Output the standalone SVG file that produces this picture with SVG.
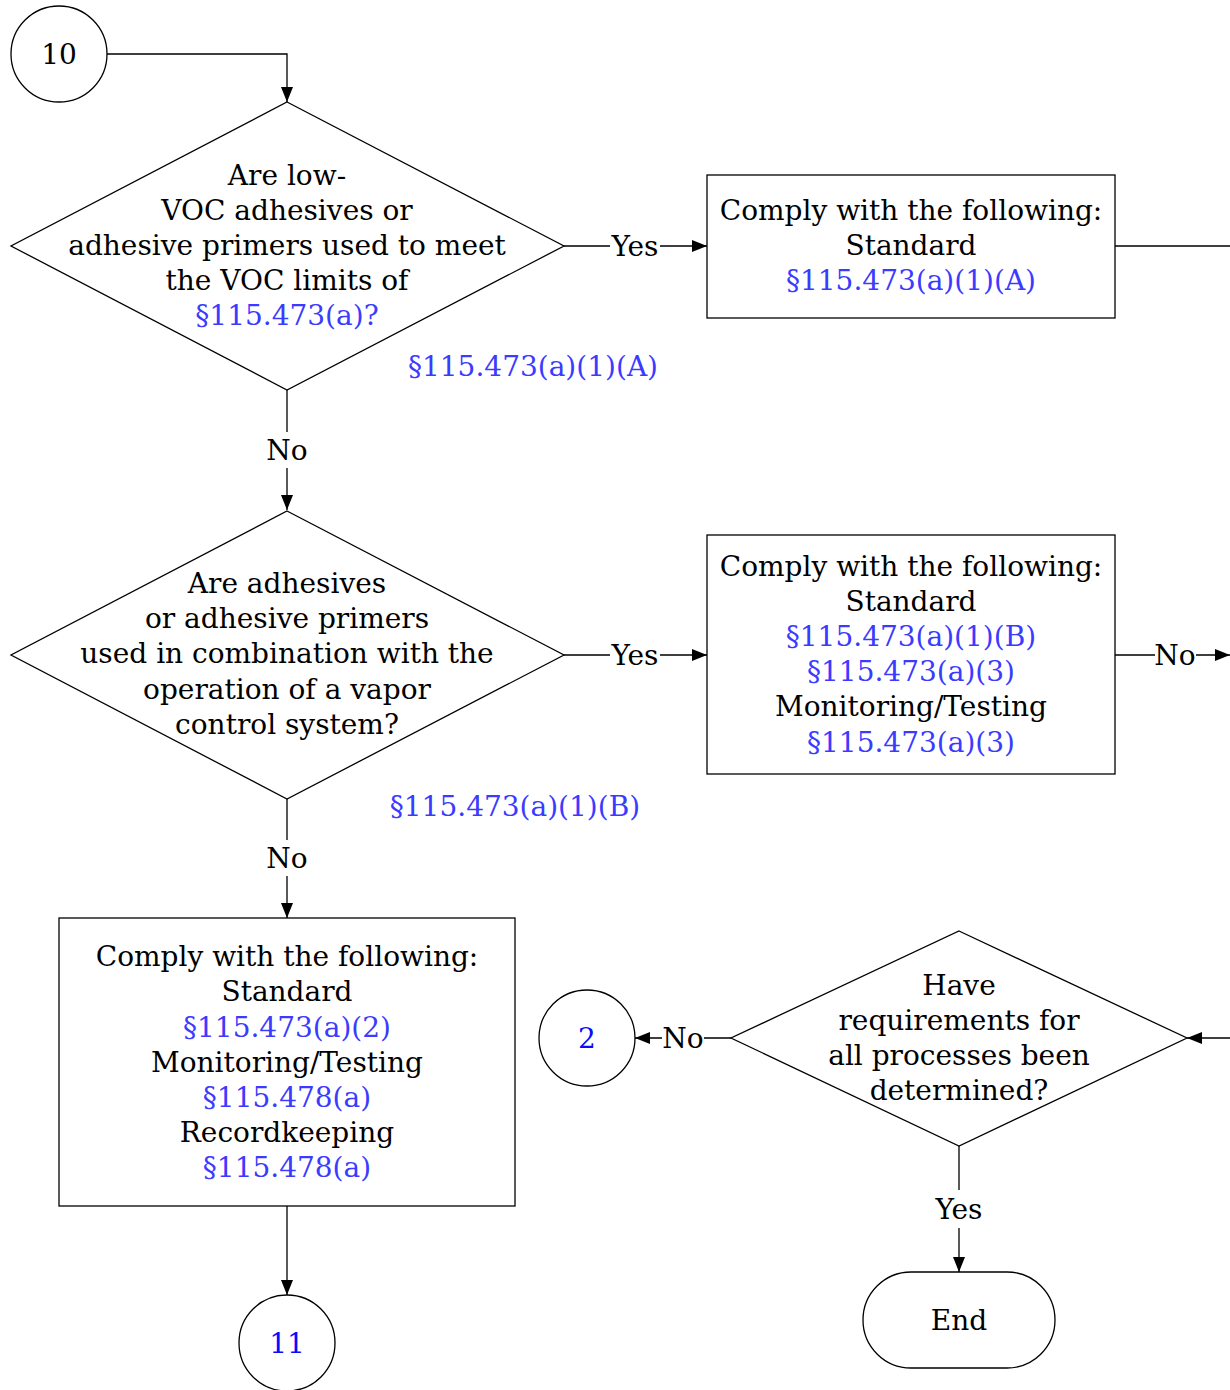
<svg xmlns="http://www.w3.org/2000/svg" width="1230" height="1390" viewBox="0 0 1230 1390">
<style>
text{font-family:"DejaVu Serif","Liberation Serif",serif;font-size:28px;fill:#000;text-anchor:middle;dominant-baseline:central}
.l{fill:#3b3bff}
.n{fill:#0a0aff}
.s{fill:#fff;stroke:#000;stroke-width:1.3}
.c{fill:none;stroke:#000;stroke-width:1.3}
</style>
<defs>
<marker id="a" viewBox="0 0 15 12" refX="15" refY="6" markerWidth="15" markerHeight="12" markerUnits="userSpaceOnUse" orient="auto"><path d="M0,0L15,6L0,12Z" fill="#000"/></marker>
</defs>
<rect width="1230" height="1390" fill="#fff"/>
<g id="connectors">
<path class="c" d="M107,54H287V102" marker-end="url(#a)"/>
<path class="c" d="M564,246H610M660,246H707" marker-end="url(#a)"/>
<text x="635" y="246">Yes</text>
<path class="c" d="M1115,246H1230"/>
<path class="c" d="M287,390V432M287,468V510" marker-end="url(#a)"/>
<text x="287" y="450">No</text>
<path class="c" d="M564,655H610M660,655H707" marker-end="url(#a)"/>
<text x="635" y="655">Yes</text>
<path class="c" d="M1115,655H1155M1196,655H1230" marker-end="url(#a)"/>
<text x="1175" y="655">No</text>
<path class="c" d="M287,799V840M287,876V918" marker-end="url(#a)"/>
<text x="287" y="858">No</text>
<path class="c" d="M287,1206V1295" marker-end="url(#a)"/>
<path class="c" d="M1230,1038H1187" marker-end="url(#a)"/>
<path class="c" d="M731,1038H704M662,1038H635" marker-end="url(#a)"/>
<text x="683" y="1038">No</text>
<path class="c" d="M959,1146V1190M959,1228V1272" marker-end="url(#a)"/>
<text x="959" y="1209">Yes</text>
</g>
<g id="n10">
<circle class="s" cx="59" cy="54" r="48"/>
<text x="59" y="54">10</text>
</g>
<g id="d1">
<path class="s" d="M287,102L564,246L287,390L11,246Z"/>
<text x="287" y="175">Are low-</text>
<text x="287" y="210">VOC adhesives or</text>
<text x="287" y="245">adhesive primers used to meet</text>
<text x="287" y="280">the VOC limits of</text>
<text x="287" y="315" class="l">§115.473(a)?</text>
<text x="533" y="366" class="l">§115.473(a)(1)(A)</text>
</g>
<g id="b1">
<rect class="s" x="707" y="175" width="408" height="143"/>
<text x="911" y="210">Comply with the following:</text>
<text x="911" y="245">Standard</text>
<text x="911" y="280" class="l">§115.473(a)(1)(A)</text>
</g>
<g id="d2">
<path class="s" d="M287,511L564,655L287,799L11,655Z"/>
<text x="287" y="583">Are adhesives</text>
<text x="287" y="618">or adhesive primers</text>
<text x="287" y="653">used in combination with the</text>
<text x="287" y="689">operation of a vapor</text>
<text x="287" y="724">control system?</text>
<text x="515" y="806" class="l">§115.473(a)(1)(B)</text>
</g>
<g id="b2">
<rect class="s" x="707" y="535" width="408" height="239"/>
<text x="911" y="566">Comply with the following:</text>
<text x="911" y="601">Standard</text>
<text x="911" y="636" class="l">§115.473(a)(1)(B)</text>
<text x="911" y="671" class="l">§115.473(a)(3)</text>
<text x="911" y="706">Monitoring/Testing</text>
<text x="911" y="742" class="l">§115.473(a)(3)</text>
</g>
<g id="b3">
<rect class="s" x="59" y="918" width="456" height="288"/>
<text x="287" y="956">Comply with the following:</text>
<text x="287" y="991">Standard</text>
<text x="287" y="1027" class="l">§115.473(a)(2)</text>
<text x="287" y="1062">Monitoring/Testing</text>
<text x="287" y="1097" class="l">§115.478(a)</text>
<text x="287" y="1132">Recordkeeping</text>
<text x="287" y="1167" class="l">§115.478(a)</text>
</g>
<g id="n11">
<circle class="s" cx="287" cy="1343" r="48"/>
<text x="287" y="1343" class="n">11</text>
</g>
<g id="d3">
<path class="s" d="M959,931L1187,1038L959,1146L731,1038Z"/>
<text x="959" y="985">Have</text>
<text x="959" y="1020">requirements for</text>
<text x="959" y="1055">all processes been</text>
<text x="959" y="1090">determined?</text>
</g>
<g id="n2">
<circle class="s" cx="587" cy="1038" r="48"/>
<text x="587" y="1038" class="n">2</text>
</g>
<g id="end">
<rect class="s" x="863" y="1272" width="192" height="96" rx="48"/>
<text x="959" y="1320">End</text>
</g>
</svg>
